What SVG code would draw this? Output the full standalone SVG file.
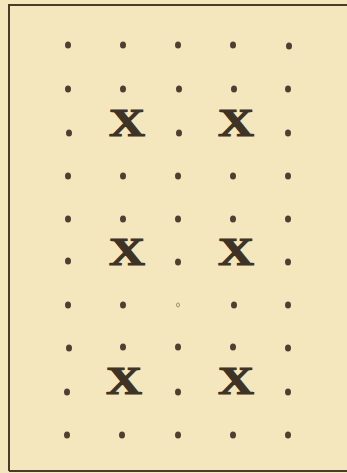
<svg xmlns="http://www.w3.org/2000/svg" width="347" height="473" viewBox="0 0 347 473">
<style>
.d{fill:#4e4030}
.x{font-family:"Liberation Serif","DejaVu Serif",serif;font-weight:bold;font-size:41px;fill:#3f3325;stroke:#3f3325;stroke-width:1.2;text-anchor:middle}
.b{stroke:#4a3a28;stroke-width:2;fill:none}
</style>
<rect width="347" height="473" fill="#f4e7be"/>
<g id="frame">
<path class="b" d="M9,471 V5 H347"/>
<path class="b" d="M9,471 H347"/>
</g>
<g id="dots">
<g id="row1"><ellipse class="d" cx="68" cy="45" rx="3" ry="3.5"/><ellipse class="d" cx="123" cy="45" rx="3" ry="3.5"/><ellipse class="d" cx="178" cy="45" rx="3" ry="3.5"/><ellipse class="d" cx="233" cy="45" rx="3" ry="3.5"/><ellipse class="d" cx="289" cy="46" rx="3" ry="3.5"/></g>
<g id="row2"><ellipse class="d" cx="68" cy="89" rx="3" ry="3.5"/><ellipse class="d" cx="123" cy="89" rx="3" ry="3.5"/><ellipse class="d" cx="179" cy="89" rx="3" ry="3.5"/><ellipse class="d" cx="234" cy="89" rx="3" ry="3.5"/><ellipse class="d" cx="288" cy="89" rx="3" ry="3.5"/></g>
<g id="row3"><ellipse class="d" cx="69" cy="133" rx="3" ry="3.5"/><ellipse class="d" cx="179" cy="133" rx="3" ry="3.5"/><ellipse class="d" cx="288" cy="133" rx="3" ry="3.5"/></g>
<g id="row4"><ellipse class="d" cx="68" cy="176" rx="3" ry="3.5"/><ellipse class="d" cx="123" cy="176" rx="3" ry="3.5"/><ellipse class="d" cx="178" cy="176" rx="3" ry="3.5"/><ellipse class="d" cx="233" cy="176" rx="3" ry="3.5"/><ellipse class="d" cx="288" cy="176" rx="3" ry="3.5"/></g>
<g id="row5"><ellipse class="d" cx="68" cy="219" rx="3" ry="3.5"/><ellipse class="d" cx="123" cy="219" rx="3" ry="3.5"/><ellipse class="d" cx="178" cy="219" rx="3" ry="3.5"/><ellipse class="d" cx="233" cy="219" rx="3" ry="3.5"/><ellipse class="d" cx="288" cy="219" rx="3" ry="3.5"/></g>
<g id="row6"><ellipse class="d" cx="68" cy="261" rx="3" ry="3.5"/><ellipse class="d" cx="178" cy="262" rx="3" ry="3.5"/><ellipse class="d" cx="288" cy="262" rx="3" ry="3.5"/></g>
<g id="row7"><ellipse class="d" cx="68" cy="305" rx="3" ry="3.5"/><ellipse class="d" cx="123" cy="305" rx="3" ry="3.5"/><ellipse cx="178" cy="305" rx="1.5" ry="2" fill="none" stroke="#8a7a5a" stroke-width="0.8"/><ellipse class="d" cx="234" cy="305" rx="3" ry="3.5"/><ellipse class="d" cx="288" cy="305" rx="3" ry="3.5"/></g>
<g id="row8"><ellipse class="d" cx="69" cy="348" rx="3" ry="3.5"/><ellipse class="d" cx="123" cy="347" rx="3" ry="3.5"/><ellipse class="d" cx="178" cy="347" rx="3" ry="3.5"/><ellipse class="d" cx="233" cy="347" rx="3" ry="3.5"/><ellipse class="d" cx="288" cy="348" rx="3" ry="3.5"/></g>
<g id="row9"><ellipse class="d" cx="67" cy="392" rx="3" ry="3.5"/><ellipse class="d" cx="178" cy="392" rx="3" ry="3.5"/><ellipse class="d" cx="288" cy="392" rx="3" ry="3.5"/></g>
<g id="row10"><ellipse class="d" cx="67" cy="435" rx="3" ry="3.5"/><ellipse class="d" cx="122" cy="435" rx="3" ry="3.5"/><ellipse class="d" cx="178" cy="435" rx="3" ry="3.5"/><ellipse class="d" cx="233" cy="435" rx="3" ry="3.5"/><ellipse class="d" cx="288" cy="435" rx="3" ry="3.5"/></g>
</g>
<g id="marks">
<text class="x" x="127" y="136" textLength="36" lengthAdjust="spacingAndGlyphs">X</text>
<text class="x" x="236" y="136" textLength="36" lengthAdjust="spacingAndGlyphs">X</text>
<text class="x" x="127" y="265" textLength="36" lengthAdjust="spacingAndGlyphs">X</text>
<text class="x" x="236" y="265" textLength="36" lengthAdjust="spacingAndGlyphs">X</text>
<text class="x" x="124" y="394" textLength="36" lengthAdjust="spacingAndGlyphs">X</text>
<text class="x" x="236" y="394" textLength="36" lengthAdjust="spacingAndGlyphs">X</text>
</g>
</svg>
